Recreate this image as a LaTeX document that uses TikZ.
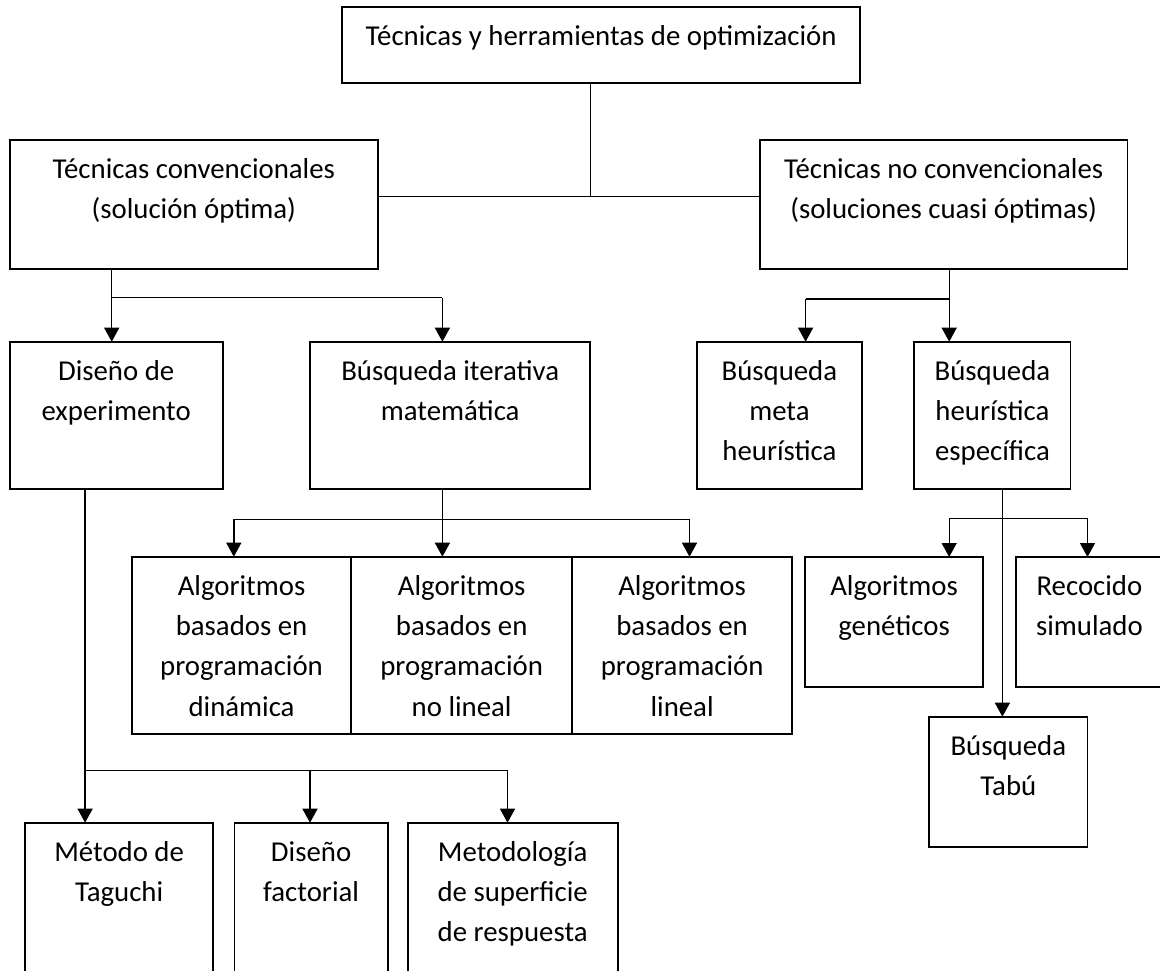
\documentclass[tikz,border=0pt]{standalone}
\usepackage{fontspec}
\setmainfont{Carlito}
\usetikzlibrary{arrows.meta}
\tikzset{
  box/.style={draw, line width=1.9pt, inner sep=0pt, outer sep=0pt},
  lbl/.style={anchor=north, align=center, inner sep=0pt, yshift=-10pt, font=\fontsize{28.8}{40.3}\selectfont},
  conn/.style={line width=1.4pt},
  arr/.style={line width=1.4pt, -{Triangle[width=15pt,length=14pt]}},
}
\newcommand\bx[6]{%
  \node[box, minimum width={#4pt-#2pt}, minimum height={#5pt-#3pt},
        label={[lbl]north:{\strut #6}}] (#1) at ({(#2+#4)/2},{(#3+#5)/2}) {};}
\begin{document}
\begin{tikzpicture}[x=1pt,y=-1pt]
\useasboundingbox (0,0) rectangle (1160,970);
\clip (0,0) rectangle (1160,970);
\fill[white] (0,0) rectangle (1160,970);
\bx{top}{341.8}{7.3}{860.4}{83.3}{Técnicas y herramientas de optimización}
\bx{tc}{9.6}{140}{378}{268.7}{Técnicas convencionales\\(solución óptima)}
\bx{tnc}{759.8}{140}{1127.5}{268.7}{Técnicas no convencionales\\(soluciones cuasi óptimas)}
\bx{dis}{9.6}{341.7}{222.7}{489.3}{Diseño de\\experimento}
\bx{bit}{310}{341.7}{590.4}{489.3}{Búsqueda iterativa\\matemática}
\bx{bmh}{696.9}{341.7}{861.9}{489.3}{Búsqueda\\meta\\heurística}
\bx{bhe}{914.4}{341.7}{1070.5}{489.3}{Búsqueda\\heurística\\específica}
\bx{a1}{131.7}{556.7}{351.4}{734}{Algoritmos\\basados en\\programación\\dinámica}
\bx{a2}{351.4}{556.7}{571.9}{734}{Algoritmos\\basados en\\programación\\no lineal}
\bx{a3}{571.9}{556.7}{792.3}{734}{Algoritmos\\basados en\\programación\\lineal}
\bx{gen}{804.9}{557}{983.2}{686.7}{Algoritmos\\genéticos}
\bx{rec}{1015.8}{557}{1163}{686.7}{Recocido\\simulado}
\bx{tabu}{929.2}{716.7}{1087.5}{846.7}{Búsqueda\\Tabú}
\bx{tag}{25.2}{822.7}{213.1}{1000}{Método de\\Taguchi}
\bx{fac}{234.5}{822.7}{387.7}{1000}{Diseño\\factorial}
\bx{met}{407.6}{822.7}{617.7}{1000}{Metodología\\de superficie\\de respuesta}
% top level
\coordinate (j0) at (590.4,196.7);
\draw[conn] (top.south -| j0) -- (j0);
\draw[conn] (tc.east |- j0) -- (tnc.west |- j0);
% conventional
\coordinate (j1) at (111.7,297.7);
\coordinate (j1b) at (442.4,297.7);
\draw[conn] (tc.south -| j1) -- (j1) -- (j1b);
\draw[arr] (j1) -- (dis.north -| j1);
\draw[arr] (j1b) -- (bit.north -| j1b);
% non conventional
\coordinate (j2) at (949.2,299);
\coordinate (j2b) at (805.6,299);
\draw[conn] (tnc.south -| j2) -- (j2) -- (j2b);
\draw[arr] (j2) -- (bhe.north -| j2);
\draw[arr] (j2b) -- (bmh.north -| j2b);
% iterative search
\coordinate (j3) at (442.4,519.3);
\coordinate (j3a) at (233.8,519.3);
\coordinate (j3c) at (689.5,519.3);
\draw[conn] (bit.south -| j3) -- (j3);
\draw[conn] (j3a) -- (j3c);
\draw[arr] (j3a) -- (a1.north -| j3a);
\draw[arr] (j3) -- (a2.north -| j3);
\draw[arr] (j3c) -- (a3.north -| j3c);
% specific heuristic
\coordinate (j4) at (1002.4,518.7);
\coordinate (j4a) at (949.2,518.7);
\coordinate (j4c) at (1087.5,518.7);
\draw[arr] (bhe.south -| j4) -- (tabu.north -| j4);
\draw[conn] (j4a) -- (j4c);
\draw[arr] (j4a) -- (gen.north -| j4a);
\draw[arr] (j4c) -- (rec.north -| j4c);
% design of experiment
\coordinate (j5) at (85.1,770.7);
\coordinate (j5b) at (310,770.7);
\coordinate (j5c) at (507.5,770.7);
\draw[arr] (dis.south -| j5) -- (tag.north -| j5);
\draw[conn] (j5) -- (j5c);
\draw[arr] (j5b) -- (fac.north -| j5b);
\draw[arr] (j5c) -- (met.north -| j5c);
\end{tikzpicture}
\end{document}
